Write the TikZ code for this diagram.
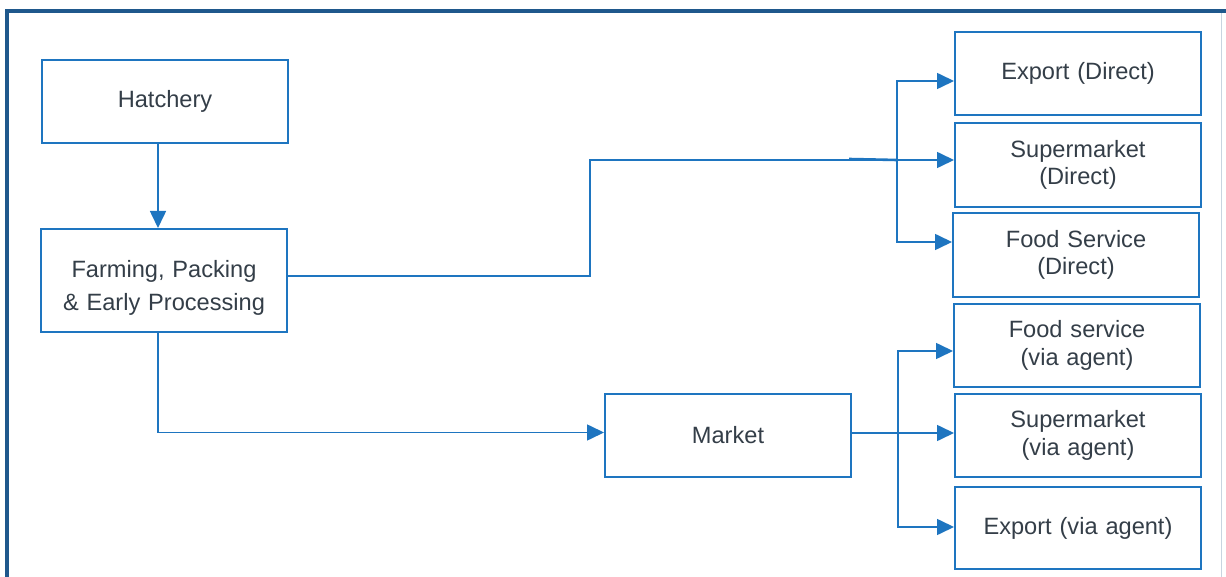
\documentclass[tikz,border=0pt]{standalone}
\usepackage{fontspec}
\setmainfont{Liberation Sans}
\usetikzlibrary{arrows.meta}
\definecolor{framec}{RGB}{31,88,140}
\definecolor{boxc}{RGB}{30,117,192}
\definecolor{textc}{RGB}{52,62,72}
\definecolor{edgec}{RGB}{200,212,224}
\tikzset{
  txt/.style={text width=240pt, align=center, text=textc, font=\fontsize{23.6}{27.5}\selectfont, inner sep=0pt},
  box/.style={txt, draw=boxc, line width=2pt, minimum width=246pt},
  conn/.style={draw=boxc, line width=1.6pt},
  arr/.style={conn, -{Triangle[length=17pt, width=16pt]}}
}
\begin{document}
\begin{tikzpicture}[x=1pt, y=-1pt]
\useasboundingbox (0,0) rectangle (1226,577);
\fill[white] (0,0) rectangle (1226,577);
% frame
\draw[edgec, line width=1pt] (1221,13) -- (1221,577);
\draw[framec, line width=4.5pt] (7,580) -- (7,11) -- (1230,11);
% nodes
\node[box, minimum height=83pt] (hatch) at (165,101.5) {\raisebox{-2pt}{Hatchery}};
\node[box, minimum height=103pt] (farm) at (164,280.5) {};
\node[txt] (farmt) at (164,288) {Farming, Packing\\[5pt]\& Early Processing};
\node[box, minimum height=83pt] (market) at (728,435.5) {Market};
\node[box, minimum height=83pt] (expd) at (1078,73.5) {Export (Direct)};
\node[box, minimum height=84pt] (supd) at (1078,165) {Supermarket\\(Direct)};
\node[box, minimum height=84pt] (fsd) at (1076,255) {Food Service\\(Direct)};
\node[box, minimum height=83pt] (fsa) at (1077,345.5) {Food service\\(via agent)};
\node[box, minimum height=83pt] (supa) at (1078,435.5) {Supermarket\\(via agent)};
\node[box, minimum height=82pt] (expa) at (1078,528) {Export (via agent)};
% coordinates
\coordinate (cx) at (158,0);
\coordinate (j1) at (590,160);
\coordinate (b1) at (897,160);
\coordinate (t1) at (849,159);
\coordinate (b2) at (898,433);
% connectors
\draw[arr] (hatch.south -| cx) -- (farm.north -| cx);
\draw[arr] ([yshift=4.5pt]farm.east) -| (j1) -- ([yshift=5pt]supd.west);
\draw[conn, line width=2.6pt] (t1) -- (b1);
\draw[arr] (b1) |- ([yshift=-7.5pt]expd.west);
\draw[arr] (b1) |- ([yshift=13pt]fsd.west);
\draw[arr] (farm.south -| cx) |- ([yshift=3pt]market.west);
\draw[arr] ([yshift=2.5pt]market.east) -- ([yshift=2.5pt]supa.west);
\draw[arr] (b2) |- ([yshift=-5.5pt]fsa.west);
\draw[arr] (b2) |- ([yshift=1pt]expa.west);
\end{tikzpicture}
\end{document}
